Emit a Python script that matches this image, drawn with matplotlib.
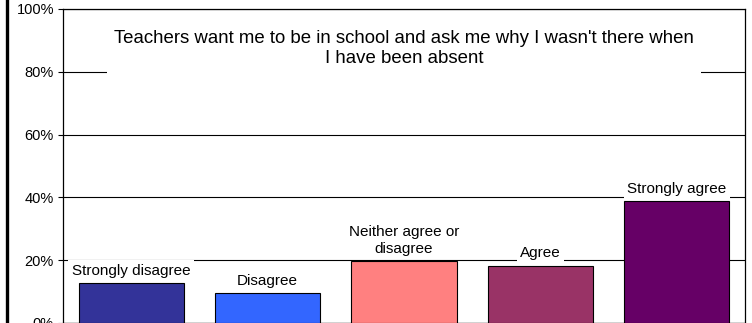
import matplotlib
matplotlib.use('Agg')
import matplotlib.pyplot as plt
from matplotlib.ticker import PercentFormatter
from matplotlib.lines import Line2D

plt.rcParams['font.family'] = ['Liberation Sans', 'DejaVu Sans']

categories = ['Strongly disagree', 'Disagree', 'Neither agree or\ndisagree', 'Agree', 'Strongly agree']
values = [12.6, 9.4, 19.7, 18.2, 38.8]
colors = ['#333399', '#3366FF', '#FF8080', '#993366', '#660066']
title = "Teachers want me to be in school and ask me why I wasn't there when\nI have been absent"

fig = plt.figure(figsize=(7.52, 3.23), dpi=100)
ax = fig.add_axes([63 / 752, 0.0, (745 - 63) / 752, (323 - 9) / 323])

x = range(len(categories))
bars = ax.bar(x, values, width=0.77, color=colors, edgecolor='black', linewidth=0.8, zorder=3)

ax.set_xlim(-0.5, len(categories) - 0.5)
ax.set_ylim(0, 100)
ax.set_yticks([0, 20, 40, 60, 80, 100])
ax.yaxis.set_major_formatter(PercentFormatter(decimals=0))
ax.tick_params(axis='y', direction='out', length=3.5, width=0.8, labelsize=10.5, pad=3)
ax.set_xticks([])
ax.grid(axis='y', color='black', linewidth=0.8, zorder=1)
for s in ax.spines.values():
    s.set_color('black')
    s.set_linewidth(0.9)

# label each bar with its category
for i, (lab, v) in enumerate(zip(categories, values)):
    ax.annotate(lab, (i, v), xytext=(0, 4), textcoords='offset points',
                ha='center', va='bottom', fontsize=11,
                bbox=dict(facecolor='white', edgecolor='none', pad=2.5), zorder=4)

ax.text(0.5, 0.875, title, transform=ax.transAxes, ha='center', va='center',
        fontsize=13.4, linespacing=1.25,
        bbox=dict(facecolor='white', edgecolor='none', pad=5), zorder=4)

# outer frame line on the left
fig.add_artist(Line2D([6.5 / 752, 6.5 / 752], [0, 1], color='black', linewidth=2.4,
                      transform=fig.transFigure))

fig.savefig('out.png', dpi=100)
